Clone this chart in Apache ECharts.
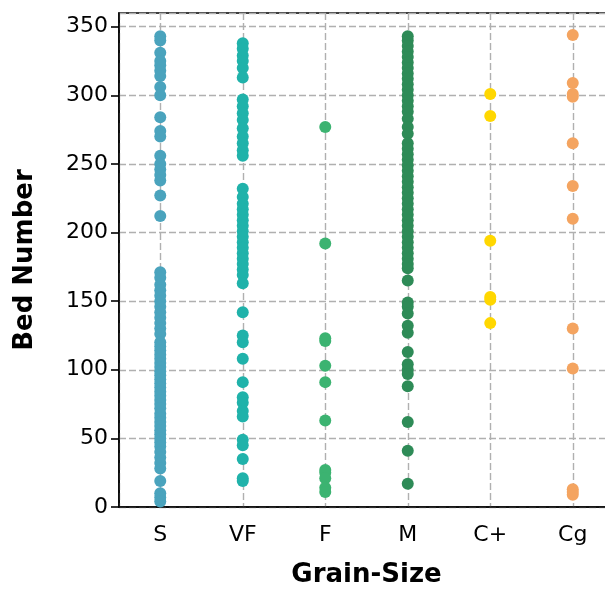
<!DOCTYPE html>
<html>
<head>
<meta charset="utf-8">
<script src="https://cdn.jsdelivr.net/npm/echarts@6/dist/echarts.min.js"></script>
<style>
  html, body { margin: 0; padding: 0; background: #fff; }
  #chart { width: 605px; height: 590px; }
</style>
</head>
<body>
<div id="chart"></div>
<script>
var categories = ["S", "VF", "F", "M", "C+", "Cg"];
var colors = ["#4aa3bd", "#20b2aa", "#3cb371", "#2e8b57", "#ffd700", "#f4a460"];

var bedS = [343, 340, 331, 325, 322, 318, 314, 306, 300, 284, 274, 270, 256, 250, 246, 242, 238, 227, 212,
  171, 167, 162, 158, 154, 150, 146, 142, 138, 134, 130, 126, 120, 117, 114, 111, 108, 105, 102, 99, 96,
  93, 90, 87, 84, 81, 78, 75, 72, 68, 65, 62, 59, 56, 53, 50, 47, 44, 40, 36, 32, 28, 19, 10, 7, 4];
var bedVF = [338, 334, 329, 325, 320, 313, 297, 292, 287, 282, 276, 270, 265, 260, 256, 232, 226, 221, 217,
  213, 209, 205, 201, 197, 193, 189, 185, 181, 177, 173, 169, 163, 142, 125, 120, 108, 91, 80, 76, 70, 66,
  49, 45, 35, 21, 19];
var bedF = [277, 192, 123, 121, 103, 91, 63, 27, 25, 21, 14, 11];
var bedM = [343, 340, 336, 332, 328, 324, 320, 316, 312, 308, 304, 300, 296, 292, 288, 283, 277, 272, 265,
  261, 257, 253, 249, 245, 241, 237, 233, 229, 225, 221, 217, 213, 209, 205, 201, 197, 193, 189, 185, 181,
  177, 174, 165, 149, 146, 141, 132, 127, 113, 104, 100, 97, 88, 62, 41, 17];
var bedCplus = [301, 285, 194, 153, 151, 134];
var bedCg = [344, 309, 301, 299, 265, 234, 210, 130, 101, 13, 11, 9];

var groups = [bedS, bedVF, bedF, bedM, bedCplus, bedCg];

var chart = echarts.init(document.getElementById("chart"));

var series = groups.map(function (vals, i) {
  return {
    type: "scatter",
    xAxisIndex: 0,
    symbolSize: 12,
    itemStyle: { color: colors[i], opacity: 1 },
    data: vals.map(function (v) { return [categories[i], v]; })
  };
});

var gridLine = { show: true, lineStyle: { color: "#b0b0b0", width: 1.4, type: [7, 3] } };
var font = "DejaVu Sans";
var axisColor = { color: "#000", width: 1.6 };

chart.setOption({
  animation: false,
  grid: {
    // the plot runs a little past the right edge of the picture
    left: 119, width: 495, top: 13, bottom: 83,
    outerBoundsMode: "none",
    show: true, borderColor: "#000", borderWidth: 1.6, backgroundColor: "transparent"
  },
  xAxis: [{
    type: "category",
    data: categories,
    boundaryGap: true,
    name: "Grain-Size",
    nameLocation: "middle",
    nameGap: 55,
    nameTextStyle: { fontFamily: font, fontWeight: "bold", fontSize: 26, color: "#000" },
    axisLine: { lineStyle: axisColor },
    axisTick: { alignWithLabel: true, length: 8, lineStyle: axisColor },
    axisLabel: { fontFamily: font, fontSize: 22, color: "#000", margin: 17 },
    splitLine: { show: false }
  }, {
    type: "value",
    min: -0.5,
    max: 5.5,
    splitNumber: 6,
    position: "bottom",
    axisLine: { show: false },
    axisTick: { show: false },
    axisLabel: { show: false },
    splitLine: gridLine
  }],
  yAxis: {
    type: "value",
    min: 0,
    max: 360,
    interval: 50,
    name: "Bed Number",
    nameLocation: "middle",
    nameGap: 81,
    nameRotate: 90,
    nameTextStyle: { fontFamily: font, fontWeight: "bold", fontSize: 26, color: "#000" },
    axisLine: { show: true, onZero: false, lineStyle: axisColor },
    axisTick: { show: true, length: 8, lineStyle: axisColor },
    axisLabel: { fontFamily: font, fontSize: 22, color: "#000", margin: 11,
      showMaxLabel: false },
    splitLine: gridLine
  },
  series: series
});
</script>
</body>
</html>
